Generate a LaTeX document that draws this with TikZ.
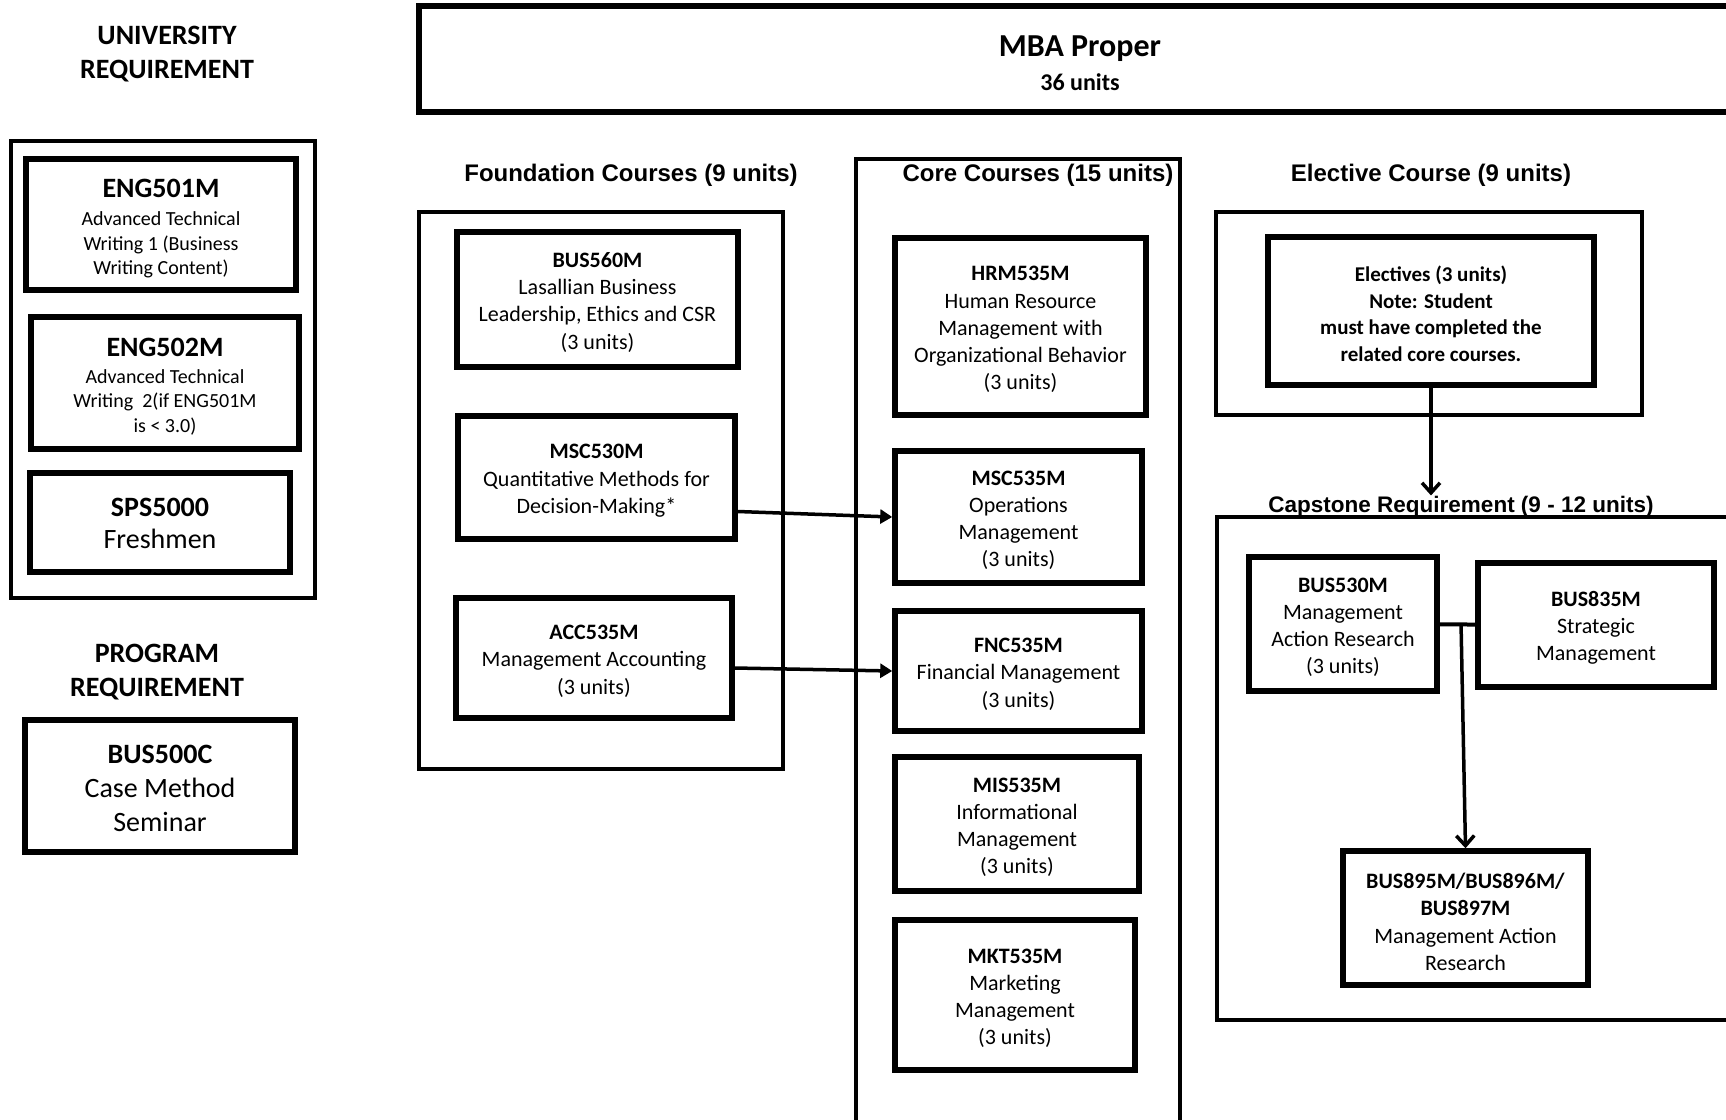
\documentclass[tikz,border=0pt]{standalone}
\usepackage{fontspec}
\setmainfont{Carlito}
\newfontfamily\hdfont{Liberation Sans}
\usetikzlibrary{arrows.meta}
\newcommand{\code}[2][10.4pt]{\textbf{\rule{0pt}{#1}#2}}

\begin{document}
\begin{tikzpicture}[x=0.5pt, y=-0.5pt,
            course/.style = {draw, line width=2.75pt, align=center, inner sep=0pt,
                             font=\fontsize{11}{13.6}\selectfont},
            group/.style = {draw, line width=1.75pt, inner sep=0pt},
            heading/.style = {font=\hdfont\bfseries\fontsize{12}{14}\selectfont},
            reqtitle/.style = {align=center, font=\bfseries\fontsize{14}{17}\selectfont},
            solidarrow/.style = {line width=1.75pt, -{Triangle[length=6pt, width=7pt]}},
            openarrow/.style = {line width=1.75pt, -{Straight Barb[length=5pt, width=9pt]}}]
            \useasboundingbox (0,0) rectangle (1726,1120);
            \clip (0,0) rectangle (1726,1120);

            \node[reqtitle] (univtitle) at (167,54.5) {UNIVERSITY\\REQUIREMENT};
            \node[group, minimum width=152pt, minimum height=228.5pt] (univ) at (163,369.5) {};
            \node[course, minimum width=135pt, minimum height=65.5pt, font=\fontsize{10}{12.25}\selectfont] (eng501) at (161,224.5)
                {{\fontsize{14}{15}\selectfont\code[13.4pt]{ENG501M}}\\[2pt] Advanced Technical\\ Writing 1 (Business\\ Writing Content)};
            \node[course, minimum width=134pt, minimum height=66pt, font=\fontsize{10}{12.25}\selectfont] (eng502) at (165,383)
                {{\fontsize{14}{15}\selectfont\code[12.8pt]{ENG502M}}\\[1pt] Advanced Technical\\ Writing\ \ 2(if ENG501M\\ is < 3.0)};
            \node[course, minimum width=130pt, minimum height=49.5pt, font=\fontsize{14}{16}\selectfont] (sps5000) at (160,522.5)
                {\code[10.5pt]{SPS5000}\\ Freshmen};

            \node[reqtitle] (progtitle) at (157,672) {PROGRAM\\REQUIREMENT};
            \node[course, minimum width=135pt, minimum height=66pt, font=\fontsize{14}{17}\selectfont] (bus500) at (160,786)
                {\code[11.2pt]{BUS500C}\\ Case Method\\ Seminar};

            \node[course, minimum width=661pt, minimum height=53pt, font=\bfseries\fontsize{12}{17}\selectfont] (mba) at (1080,59)
                {{\fontsize{16}{17}\selectfont\code[14.2pt]{MBA Proper}}\\ 36 units};

            \node[heading] (foundhead) at (631,175) {Foundation Courses (9 units)};
            \node[group, minimum width=182pt, minimum height=278.5pt] (found) at (601,490.5) {};
            \node[course, minimum width=140.5pt, minimum height=67.5pt] (bus560) at (597.5,299.5)
                {\code{BUS560M}\\ Lasallian Business\\ Leadership, Ethics and CSR\\ (3 units)};
            \node[course, minimum width=138.5pt, minimum height=61.5pt] (msc530) at (596.5,477.5)
                {\code{MSC530M}\\ Quantitative Methods for\\ Decision-Making*};
            \node[course, minimum width=138pt, minimum height=60pt] (acc535) at (594,658)
                {\code{ACC535M}\\ Management Accounting\\ (3 units)};

            \node[group, minimum width=162pt, minimum height=490.5pt] (core) at (1018,649.5) {};
            \node[heading] (corehead) at (1038,175) {Core Courses (15 units)};
            \node[course, minimum width=125.5pt, minimum height=88.5pt] (hrm535) at (1020.5,326.5)
                {\code{HRM535M}\\ Human Resource\\ Management with\\ Organizational Behavior\\ (3 units)};
            \node[course, minimum width=123.5pt, minimum height=66pt] (msc535) at (1018.5,517)
                {\code{MSC535M}\\ Operations\\ Management\\ (3 units)};
            \node[course, minimum width=123.5pt, minimum height=60pt] (fnc535) at (1018.5,671)
                {\code{FNC535M}\\ Financial Management\\ (3 units)};
            \node[course, minimum width=122pt, minimum height=67pt] (mis535) at (1017,824)
                {\code{MIS535M}\\ Informational\\ Management\\ (3 units)};
            \node[course, minimum width=120pt, minimum height=75pt] (mkt535) at (1015,995)
                {\code{MKT535M}\\ Marketing\\ Management\\ (3 units)};

            \node[heading] (electhead) at (1431,175) {Elective Course (9 units)};
            \node[group, minimum width=213pt, minimum height=101.5pt] (elect) at (1429,313.5) {};
            \node[course, minimum width=163pt, minimum height=74pt, font=\bfseries\fontsize{10.5}{13.25}\selectfont] (electives) at (1431,311)
                {\code[10.8pt]{Electives (3 units)}\\ Note: Student\\ must have completed the\\ related core courses.};

            \node[heading, font=\hdfont\bfseries\fontsize{11.25}{13}\selectfont] (caphead) at (1461,507) {Capstone Requirement (9 - 12 units)};
            \node[group, minimum width=261.5pt, minimum height=251.5pt] (capst) at (1478.5,768.5) {};
            \node[course, minimum width=94pt, minimum height=67pt] (bus530) at (1343,624)
                {\code{BUS530M}\\ Management\\ Action Research\\ (3 units)};
            \node[course, minimum width=118pt, minimum height=62pt] (bus835) at (1596,625)
                {\code{BUS835M}\\ Strategic\\ Management};
            \node[course, minimum width=122.5pt, minimum height=67pt] (bus895) at (1465.5,918)
                {\code[11.5pt]{BUS895M/BUS896M/}\\ \textbf{BUS897M}\\ Management Action\\ Research};

            \draw[solidarrow] ([yshift=-17pt]msc530.east) -- (msc535.west);
            \draw[solidarrow] ([yshift=-5pt]acc535.east) -- (fnc535.west);
            \draw[openarrow] (electives.south) -- ([yshift=-3pt]electives.south |- caphead.north);
            \draw[line width=2pt] (bus530) -- coordinate[pos=0.6] (capjoin) (bus835);
            \draw[openarrow] (capjoin) -- (bus895.north);
        \end{tikzpicture}
\end{document}
